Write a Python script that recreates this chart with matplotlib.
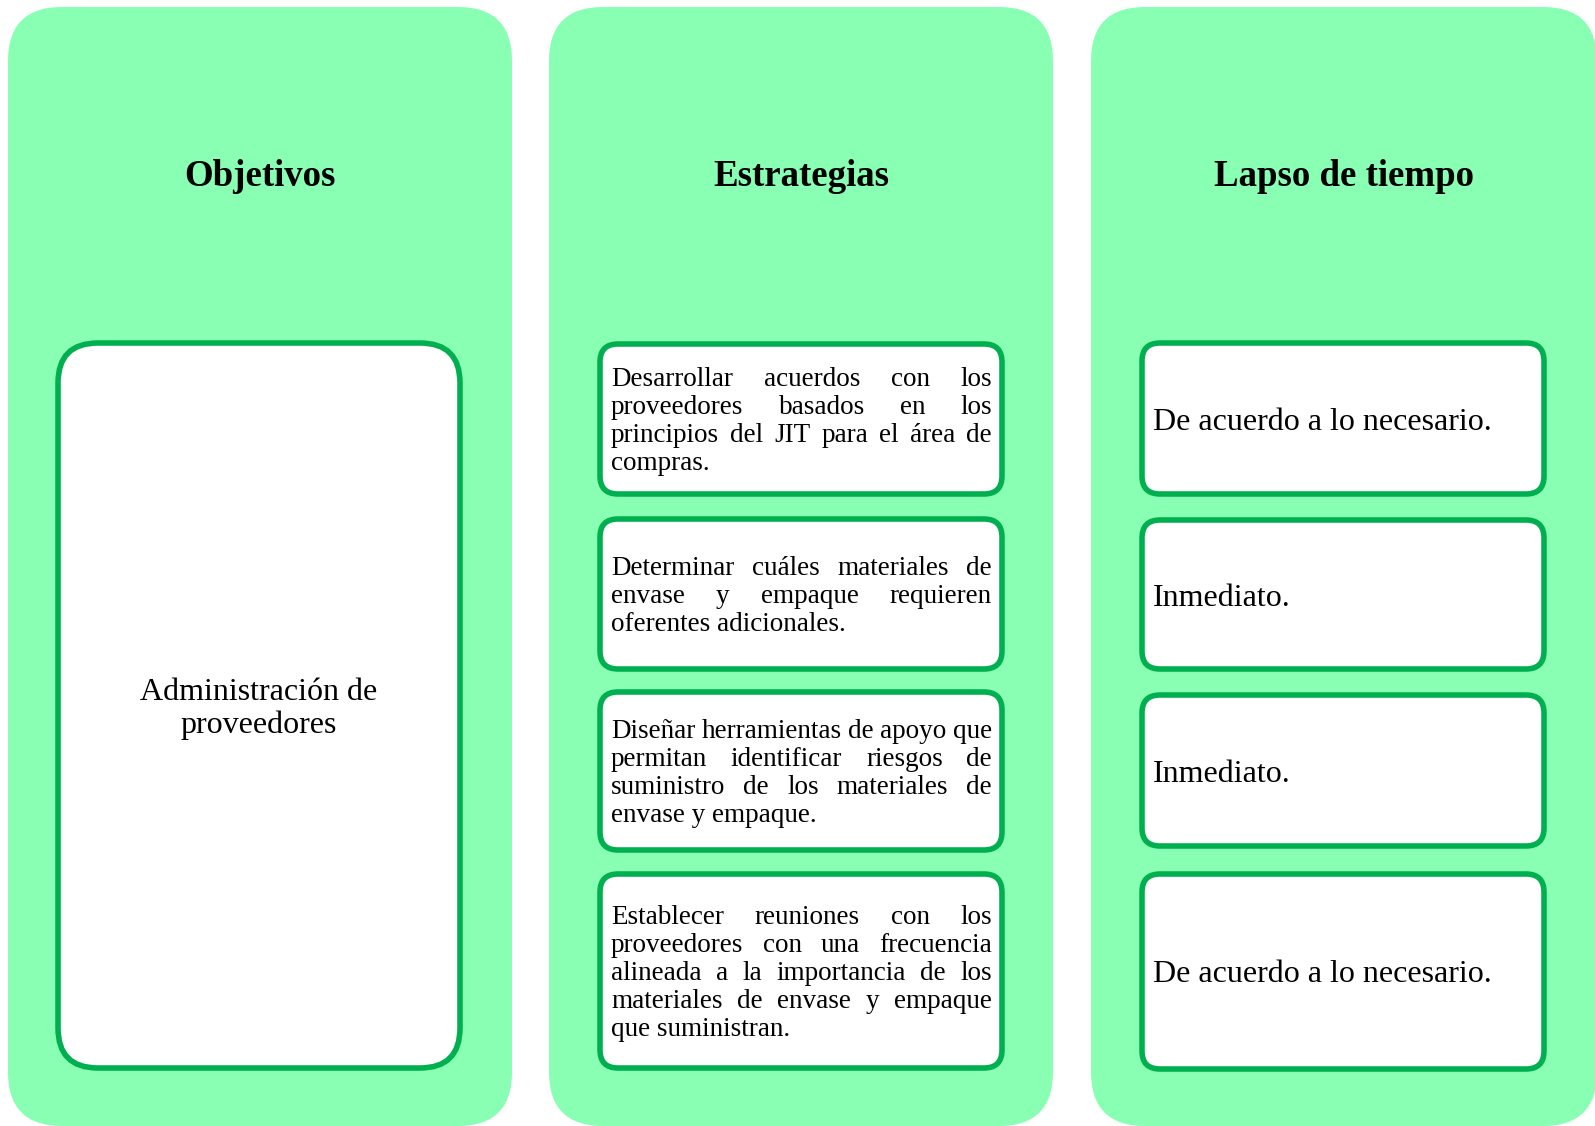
import matplotlib
matplotlib.use("Agg")
import matplotlib.pyplot as plt
from matplotlib.patches import FancyBboxPatch

# ---------------- content ----------------
headers = ["Objetivos", "Estrategias", "Lapso de tiempo"]
objective_lines = ["Administración de", "proveedores"]
strategy_lines = [
    ["Desarrollar acuerdos con los", "proveedores basados en los",
     "principios del JIT para el área de", "compras."],
    ["Determinar cuáles materiales de", "envase y empaque requieren",
     "oferentes adicionales."],
    ["Diseñar herramientas de apoyo que", "permitan identificar riesgos de",
     "suministro de los materiales de", "envase y empaque."],
    ["Establecer reuniones con los", "proveedores con una frecuencia",
     "alineada a la importancia de los", "materiales de envase y empaque",
     "que suministran."],
]
time_labels = ["De acuerdo a lo necesario.", "Inmediato.", "Inmediato.",
               "De acuerdo a lo necesario."]

# ---------------- layout / style ----------------
W, H = 1595, 1126
PANEL_FILL = "#88FFB2"
BORDER = "#00B050"
SERIF = ["Liberation Serif", "DejaVu Serif"]

fig = plt.figure(figsize=(W / 100, H / 100), dpi=100)
ax = fig.add_axes([0, 0, 1, 1])
ax.set_xlim(0, W)
ax.set_ylim(H, 0)
ax.axis("off")
fig.patch.set_facecolor("white")

panels_x = [(8, 512), (549, 1053), (1091, 1597)]
panel_top, panel_bot = 7, 1126


def rbox(x0, y0, x1, y1, r, fc, ec=None, lw=0, z=1):
    p = FancyBboxPatch((x0, y0), x1 - x0, y1 - y0,
                       boxstyle=f"round,pad=0,rounding_size={r}",
                       fc=fc, ec=ec if ec else "none", lw=lw, zorder=z)
    ax.add_patch(p)


for (x0, x1), title in zip(panels_x, headers):
    rbox(x0, panel_top, x1, panel_bot, 54, PANEL_FILL)
    ax.text((x0 + x1) / 2, 186, title, ha="center", va="baseline",
            fontsize=26.6, fontweight="bold", family=SERIF, color="black", zorder=5)

LW = 4.0
# Objective box
ob = (58, 343, 460, 1068)
rbox(*ob, 40, "white", BORDER, LW, 3)
cy = (ob[1] + ob[3]) / 2
n = len(objective_lines)
for i, line in enumerate(objective_lines):
    y = cy + 10.5 + (i - (n - 1) / 2) * 33
    ax.text((ob[0] + ob[2]) / 2, y, line, ha="center", va="baseline",
            fontsize=23, family=SERIF, color="black", zorder=5)

# Strategy / time boxes
s_boxes = [(600, 344, 1002, 494), (600, 519, 1002, 669),
           (600, 692, 1002, 850), (600, 874, 1002, 1068)]
t_boxes = [(1142, 343, 1544, 494), (1142, 520, 1544, 669),
           (1142, 695, 1544, 846), (1142, 874, 1544, 1069)]

fig.canvas.draw()
renderer = fig.canvas.get_renderer()
TX0, TX1 = 611, 992
FS = 19.5
LS = 28.0


def text_width(s):
    t = ax.text(0, 0, s, fontsize=FS, family=SERIF)
    w = t.get_window_extent(renderer).width
    t.remove()
    return w


for box, lines in zip(s_boxes, strategy_lines):
    rbox(*box, 18, "white", BORDER, LW, 3)
    cy = (box[1] + box[3]) / 2
    n = len(lines)
    for i, line in enumerate(lines):
        y = cy + 8.6 + (i - (n - 1) / 2) * LS
        words = line.split(" ")
        if i == n - 1 or len(words) == 1:
            ax.text(TX0, y, line, ha="left", va="baseline", fontsize=FS,
                    family=SERIF, color="black", zorder=5)
            continue
        widths = [text_width(w) for w in words]
        gap = (TX1 - TX0 - sum(widths)) / (len(words) - 1)
        x = TX0
        for w, wd in zip(words, widths):
            ax.text(x, y, w, ha="left", va="baseline", fontsize=FS,
                    family=SERIF, color="black", zorder=5)
            x += wd + gap

for box, lab in zip(t_boxes, time_labels):
    rbox(*box, 18, "white", BORDER, LW, 3)
    cy = (box[1] + box[3]) / 2
    ax.text(1153, cy + 11, lab, ha="left", va="baseline", fontsize=23,
            family=SERIF, color="black", zorder=5)

fig.savefig("out.png", dpi=100, facecolor="white")
